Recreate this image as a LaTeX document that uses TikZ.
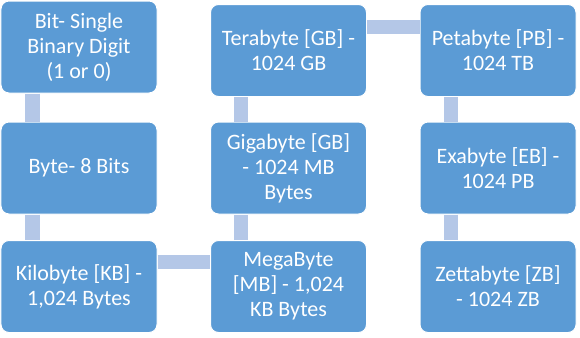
\documentclass[tikz,border=0pt]{standalone}
\usepackage{fontspec}
\setmainfont{Carlito}
\definecolor{boxblue}{RGB}{91,155,213}
\definecolor{linkblue}{RGB}{180,199,231}
\tikzset{
  unit/.style={draw=white, line width=1bp, fill=boxblue, rounded corners=8bp,
    minimum width=156bp, minimum height=92bp, inner sep=0pt, text=white,
    align=center, font=\fontsize{22bp}{25bp}\selectfont},
  link/.style={draw=linkblue, line width=14bp}
}
\begin{document}
\begin{tikzpicture}[x=1bp, y=-1bp]
\useasboundingbox (0,0) rectangle (580,337);
% first column
\node[unit] (bit) at (79,47) {Bit- Single\\Binary Digit\\(1 or 0)};
\node[unit] (byte) at (79,168) {Byte- 8 Bits};
\node[unit] (kb) at (79,286.5) {Kilobyte [KB] -\\1,024 Bytes};
% second column
\node[unit] (mb) at (288.5,286.5) {MegaByte\\{[MB]} - 1,024\\KB Bytes};
\node[unit] (gb) at (288.5,168) {Gigabyte [GB]\\- 1024 MB\\Bytes};
\node[unit] (tb) at (288.5,50.5) {Terabyte [GB] -\\1024 GB};
% third column
\node[unit] (pb) at (498,50.5) {Petabyte [PB] -\\1024 TB};
\node[unit] (eb) at (498,168) {Exabyte [EB] -\\1024 PB};
\node[unit] (zb) at (498,286.5) {Zettabyte [ZB]\\- 1024 ZB};
% links
\draw[link] ([xshift=32bp]bit.south west) -- ([xshift=32bp]byte.north west);
\draw[link] ([xshift=32bp]byte.south west) -- ([xshift=32bp]kb.north west);
\draw[link] ([yshift=-22bp]kb.north east) -- ([yshift=-22bp]mb.north west);
\draw[link] ([xshift=31bp]mb.north west) -- ([xshift=31bp]gb.south west);
\draw[link] ([xshift=31bp]gb.north west) -- ([xshift=31bp]tb.south west);
\draw[link] ([yshift=-22.5bp]tb.north east) -- ([yshift=-22.5bp]pb.north west);
\draw[link] ([xshift=31bp]pb.south west) -- ([xshift=31bp]eb.north west);
\draw[link] ([xshift=31bp]eb.south west) -- ([xshift=31bp]zb.north west);
\end{tikzpicture}
\end{document}
